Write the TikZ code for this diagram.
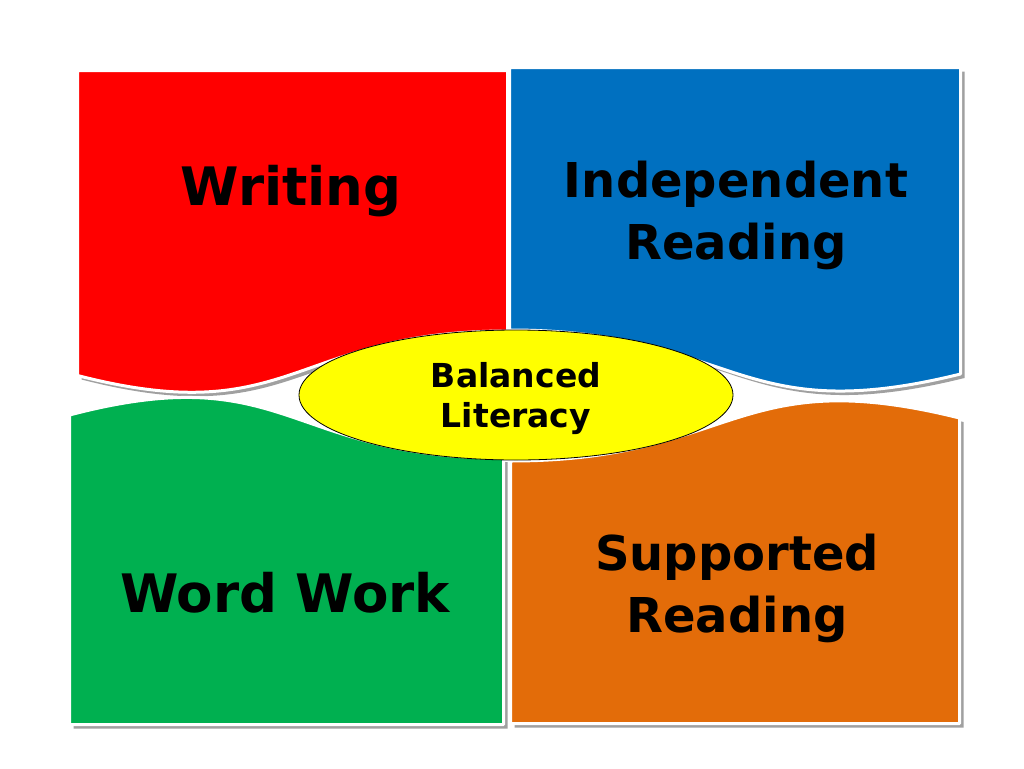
\documentclass[tikz,border=0pt]{standalone}
\usepackage{fontspec}
\setmainfont{DejaVu Sans}
\usetikzlibrary{shapes.geometric}
\definecolor{cred}{HTML}{FF0000}
\definecolor{cblue}{HTML}{0070C0}
\definecolor{cgreen}{HTML}{00B050}
\definecolor{corange}{HTML}{E36C09}
\definecolor{cyel}{HTML}{FFFF00}
\definecolor{cshadow}{HTML}{A0A0A0}
\begin{document}
\begin{tikzpicture}[x=1pt,y=-1pt,
  panel/.style={draw=white,line width=3pt,line join=round},
  shad/.style={fill=cshadow,shift={(4,4)}},
  big/.style={font=\fontsize{53}{66}\selectfont\bfseries,inner sep=0pt,align=center},
  mid/.style={font=\fontsize{48}{62}\selectfont\bfseries,inner sep=0pt,align=center},
  small/.style={font=\fontsize{33}{40}\selectfont\bfseries,inner sep=0pt,align=center}]
\fill[white] (0,0) rectangle (1024,768);
\useasboundingbox (0,0) rectangle (1024,768);
% shadows
\path[shad] (77.5,70.5) -- (507.5,70.5) -- (507.5,331) .. controls (292.5,331) and (292.5,431) .. (77.5,375.5) -- cycle;
\path[shad] (509.5,67.5) -- (960.5,67.5) -- (960.5,374) .. controls (735,430) and (735,330) .. (509.5,330) -- cycle;
\path[shad] (69.5,415) .. controls (286.5,358) and (286.5,458) .. (503.5,458) -- (503.5,724.5) -- (69.5,724.5) -- cycle;
\path[shad] (510.5,461) .. controls (735,461) and (735,362) .. (959.5,418) -- (959.5,723.5) -- (510.5,723.5) -- cycle;
% panels
\path[panel,fill=cred] (77.5,70.5) -- (507.5,70.5) -- (507.5,331) .. controls (292.5,331) and (292.5,431) .. (77.5,375.5) -- cycle;
\path[panel,fill=cblue] (509.5,67.5) -- (960.5,67.5) -- (960.5,374) .. controls (735,430) and (735,330) .. (509.5,330) -- cycle;
\path[panel,fill=cgreen] (69.5,415) .. controls (286.5,358) and (286.5,458) .. (503.5,458) -- (503.5,724.5) -- (69.5,724.5) -- cycle;
\path[panel,fill=corange] (510.5,461) .. controls (735,461) and (735,362) .. (959.5,418) -- (959.5,723.5) -- (510.5,723.5) -- cycle;
% texts
\node[big,anchor=base] (writing) at (291,205) {Writing};
\node[mid,anchor=base] (indep) at (736,259) {Independent\\Reading};
\node[big,anchor=base] (word) at (285,612) {Word Work};
\node[mid,anchor=base] (supp) at (737,632) {Supported\\Reading};
\node[draw=black,line width=0.8pt,fill=cyel,ellipse,minimum width=434pt,minimum height=130pt,inner sep=0pt] (bl) at (516,395) {};
\node[small,anchor=base] (bltext) at (516,427) {Balanced\\Literacy};
\end{tikzpicture}
\end{document}
